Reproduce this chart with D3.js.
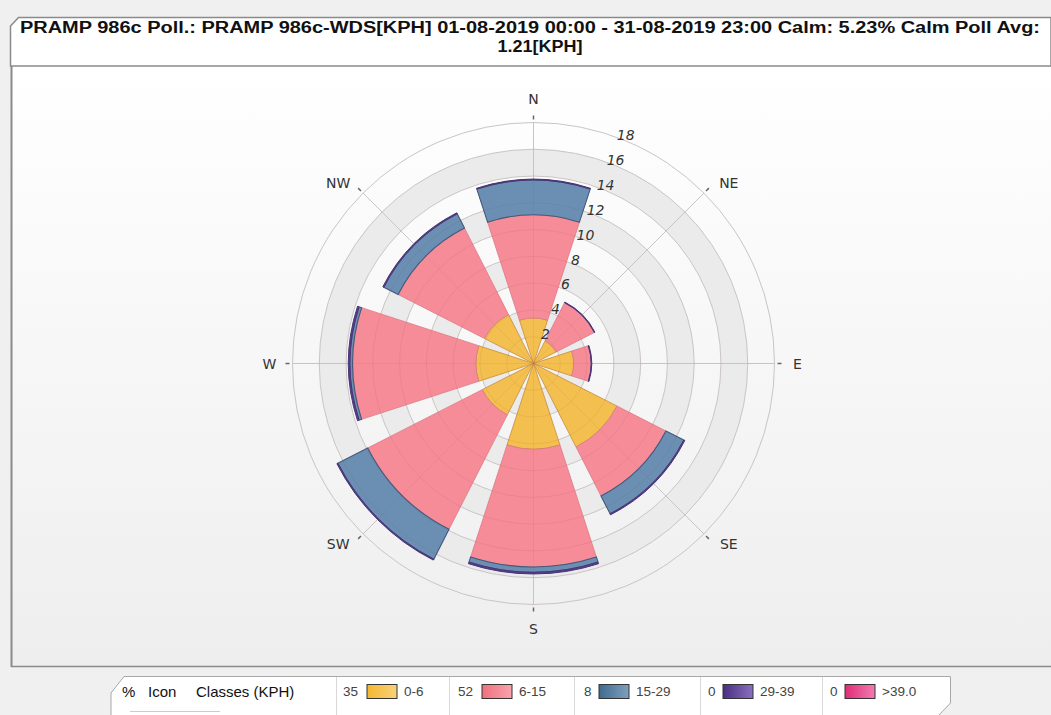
<!DOCTYPE html>
<html>
<head>
<meta charset="utf-8">
<script src="https://cdn.jsdelivr.net/npm/d3@7"></script>
<style>
  html, body { margin: 0; padding: 0; background: #f0f0f0; }
  svg { display: block; }
</style>
</head>
<body>
<svg id="chart" width="1051" height="715"></svg>
<script>
// ---------------- DATA ----------------
const titleLine1 = "PRAMP 986c Poll.: PRAMP 986c-WDS[KPH] 01-08-2019 00:00 - 31-08-2019 23:00 Calm: 5.23%  Calm Poll Avg:";
const titleLine2 = "1.21[KPH]";
const directions = ["N", "NE", "E", "SE", "S", "SW", "W", "NW"];
const classLabels = ["0-6", "6-15", "15-29", "29-39", ">39.0"];
const classPercents = [35, 52, 8, 0, 0];
// percent frequency per direction, per speed class (stacked)
const s0_6   = [3.4, 1.9, 3.0, 7.0, 6.4, 4.3, 4.3, 4.1];
const s6_15  = [7.7, 3.2, 1.3, 4.1, 8.8, 9.6, 9.2, 7.25];
const s15_29 = [2.6, 0.0, 0.0, 1.5, 0.4, 2.5, 0.2, 1.2];
const s29_39 = [0.06, 0.05, 0.05, 0.08, 0.12, 0.08, 0.12, 0.08];
const s39    = [0, 0, 0, 0, 0, 0, 0, 0];
const radialTicks = [2, 4, 6, 8, 10, 12, 14, 16, 18];
const legendTitleParts = [["%", 122], ["Icon", 148], ["Classes (KPH)", 196]];

// ---------------- STYLE ----------------
const fills   = ["#f3c04f", "#f68c98", "#6b8fb2", "#5b3f8e", "#e8408a"];
const strokes = ["#c98a3c", "#dc7a86", "#44587c", "#4a3478", "#a02a60"];
const swatchA = ["#f5b731", "#f0707e", "#3f6a8e", "#4a2f80", "#e02c77"];
const swatchB = ["#f8d27a", "#f8a3ad", "#7fa0be", "#8a6fc0", "#f27bb0"];

const svg = d3.select("#chart");
const W = 1051, H = 715;
const cx = 533.5, cy = 363.5;
const rMax = 241;

const defs = svg.append("defs");
const bg = defs.append("linearGradient").attr("id", "plotbg").attr("x1", 0).attr("y1", 0).attr("x2", 0).attr("y2", 1);
bg.append("stop").attr("offset", "0%").attr("stop-color", "#ffffff");
bg.append("stop").attr("offset", "100%").attr("stop-color", "#eeeeee");
fills.forEach((f, i) => {
  const g = defs.append("linearGradient").attr("id", "sw" + i).attr("x1", 0).attr("y1", 0).attr("x2", 1).attr("y2", 0);
  g.append("stop").attr("offset", "0%").attr("stop-color", swatchA[i]);
  g.append("stop").attr("offset", "100%").attr("stop-color", swatchB[i]);
});

// page background
svg.append("rect").attr("width", W).attr("height", H).attr("fill", "#f0f0f0");

// plot area
svg.append("rect").attr("x", 12).attr("y", 66).attr("width", W - 12).attr("height", 600)
  .attr("fill", "url(#plotbg)");
svg.append("line").attr("x1", 11.5).attr("x2", 11.5).attr("y1", 66).attr("y2", 667)
  .attr("stroke", "#8a8a8a").attr("stroke-width", 2);
svg.append("line").attr("x1", 11).attr("x2", W).attr("y1", 666.5).attr("y2", 666.5)
  .attr("stroke", "#8a8a8a").attr("stroke-width", 1.5);

// title box
svg.append("path").attr("d", `M10.5,26 L18.5,17.5 L${W},17.5 L${W},66 L10.5,66 Z`)
  .attr("fill", "#ffffff").attr("stroke", "#8a8a8a").attr("stroke-width", 1.5);
svg.append("text").attr("x", 530).attr("y", 33).attr("text-anchor", "middle")
  .attr("font-family", "Liberation Sans Narrow, Liberation Sans, Arial, sans-serif").attr("font-weight", "bold")
  .attr("font-size", 16).attr("fill", "#111")
  .attr("textLength", 1020).attr("lengthAdjust", "spacingAndGlyphs").text(titleLine1);
svg.append("text").attr("x", 540).attr("y", 52).attr("text-anchor", "middle")
  .attr("font-family", "Liberation Sans Narrow, Liberation Sans, Arial, sans-serif").attr("font-weight", "bold")
  .attr("font-size", 16).attr("fill", "#111")
  .attr("textLength", 85).attr("lengthAdjust", "spacingAndGlyphs").text(titleLine2);

// ---------------- SCALES ----------------
const r = d3.scaleLinear().domain([0, 18]).range([0, rMax]);
const ang = d3.scaleLinear().domain([0, directions.length]).range([0, 2 * Math.PI]);
const halfW = (18 / 180) * Math.PI;

const g = svg.append("g").attr("transform", `translate(${cx},${cy})`);

// shaded bands
const bandArc = d3.arc();
radialTicks.forEach((t, i) => {
  if (i % 2 === 1) {
    g.append("path").attr("d", bandArc({innerRadius: r(t - 2), outerRadius: r(t), startAngle: 0, endAngle: 2 * Math.PI}))
      .attr("fill", "#ebebeb");
  }
});
// grid circles
g.selectAll("circle.grid").data(radialTicks).join("circle")
  .attr("class", "grid").attr("r", d => r(d)).attr("fill", "none")
  .attr("stroke", "#d4d4d4").attr("stroke-width", 1);
// radial spokes
g.selectAll("line.spoke").data(directions).join("line")
  .attr("class", "spoke")
  .attr("x1", 0).attr("y1", 0)
  .attr("x2", (d, i) => Math.sin(ang(i)) * rMax)
  .attr("y2", (d, i) => -Math.cos(ang(i)) * rMax)
  .attr("stroke", "#cfcfcf").attr("stroke-width", 1);
// small ticks beyond outer circle
g.selectAll("line.tick").data(directions).join("line")
  .attr("class", "tick")
  .attr("x1", (d, i) => Math.sin(ang(i)) * (rMax + 3))
  .attr("y1", (d, i) => -Math.cos(ang(i)) * (rMax + 3))
  .attr("x2", (d, i) => Math.sin(ang(i)) * (rMax + 7))
  .attr("y2", (d, i) => -Math.cos(ang(i)) * (rMax + 7))
  .attr("stroke", "#666").attr("stroke-width", 1.5);

// ---------------- BARS ----------------
const series = [s0_6, s6_15, s15_29, s29_39, s39];
const arc = d3.arc();
directions.forEach((dname, i) => {
  let base = 0;
  series.forEach((s, k) => {
    const v = s[i];
    if (v <= 0) return;
    const a0 = ang(i) - halfW, a1 = ang(i) + halfW;
    g.append("path")
      .attr("d", arc({innerRadius: r(base), outerRadius: r(base + v), startAngle: a0, endAngle: a1}))
      .attr("fill", fills[k])
      .attr("stroke", strokes[k])
      .attr("stroke-width", k === 3 ? 1 : (k === 2 ? 1.1 : 0.8))
      .attr("stroke-linejoin", "miter");
    base += v;
  });
});
// faint grid visible through bars
g.selectAll("circle.over").data(radialTicks).join("circle")
  .attr("class", "over").attr("r", d => r(d)).attr("fill", "none")
  .attr("stroke", "rgba(120,60,40,0.09)").attr("stroke-width", 1);
g.selectAll("line.over").data(directions).join("line")
  .attr("class", "over")
  .attr("x1", 0).attr("y1", 0)
  .attr("x2", (d, i) => Math.sin(ang(i)) * rMax)
  .attr("y2", (d, i) => -Math.cos(ang(i)) * rMax)
  .attr("stroke", "rgba(120,60,40,0.07)").attr("stroke-width", 1);

// ---------------- LABELS ----------------
const tickAngle = (22 / 180) * Math.PI;
g.selectAll("text.rtick").data(radialTicks).join("text")
  .attr("class", "rtick")
  .attr("x", d => Math.sin(tickAngle) * (r(d) + 5))
  .attr("y", d => -Math.cos(tickAngle) * (r(d) + 5))
  .attr("text-anchor", "middle").attr("dominant-baseline", "central")
  .attr("font-family", "DejaVu Sans, sans-serif").attr("font-style", "italic")
  .attr("font-size", 14).attr("fill", "#333")
  .text(d => d);

g.selectAll("text.dir").data(directions).join("text")
  .attr("class", "dir")
  .attr("x", (d, i) => {
    const a = ang(i);
    if (i % 2 === 0) return Math.sin(a) * 264;
    return Math.sin(a) * 255 + Math.sign(Math.sin(a)) * 15;
  })
  .attr("y", (d, i) => {
    const a = ang(i);
    if (i % 2 === 0) return -Math.cos(a) * 265;
    return -Math.cos(a) * 255;
  })
  .attr("text-anchor", "middle").attr("dominant-baseline", "central")
  .attr("font-family", "DejaVu Sans, sans-serif").attr("font-size", 14).attr("fill", "#333")
  .text(d => d);

// ---------------- LEGEND ----------------
const lg = svg.append("g");
lg.append("path").attr("d", "M111,716 L111,693 L124,676.5 L950.5,676.5 L950.5,703 L938,716")
  .attr("fill", "#ffffff").attr("stroke", "#a8a8a8").attr("stroke-width", 1);
const sepX = [336, 449, 574, 700, 822];
sepX.forEach(x => lg.append("line").attr("x1", x + 0.5).attr("x2", x + 0.5).attr("y1", 677).attr("y2", 715)
  .attr("stroke", "#d8d8d8"));
lg.append("line").attr("x1", 130).attr("x2", 220).attr("y1", 711.5).attr("y2", 711.5)
  .attr("stroke", "#cccccc");
const lf = "Liberation Sans, Arial, sans-serif";
legendTitleParts.forEach(([t, x]) => {
  lg.append("text").attr("x", x).attr("y", 696.5).attr("font-family", lf).attr("font-size", 15)
    .attr("fill", "#111").text(t);
});
const pctX = [343, 458, 584, 708, 830];
classLabels.forEach((lab, i) => {
  const x0 = pctX[i];
  lg.append("text").attr("x", x0).attr("y", 696).attr("font-family", lf).attr("font-size", 13.5)
    .attr("fill", "#444").text(classPercents[i]);
  const sx = x0 + (String(classPercents[i]).length > 1 ? 24 : 15);
  lg.append("rect").attr("x", sx).attr("y", 684.5).attr("width", 30).attr("height", 14)
    .attr("fill", `url(#sw${i})`).attr("stroke", "#333").attr("stroke-width", 1);
  lg.append("text").attr("x", sx + 37).attr("y", 696).attr("font-family", lf).attr("font-size", 13.5)
    .attr("fill", "#444").text(lab);
});
</script>
</body>
</html>
